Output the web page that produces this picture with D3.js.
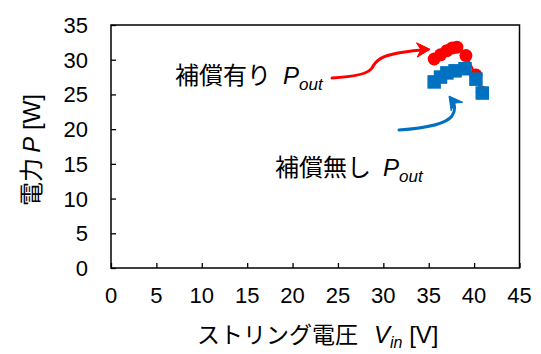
<!DOCTYPE html>
<html>
<head>
<meta charset="utf-8">
<script src="https://cdn.jsdelivr.net/npm/d3@7"></script>
<style>
  html, body { margin: 0; padding: 0; background: #fff; }
  svg { display: block; }
  text { fill: #000; }
</style>
</head>
<body>
<svg id="chart" width="541" height="354"></svg>
<script>
// String voltage vs. output power, with and without compensation
const vinComp   = [35.6, 36.3, 37.0, 37.6, 38.1, 39.1, 40.2, 40.9];
const pComp     = [30.1, 30.7, 31.3, 31.7, 31.8, 30.6, 27.8, 25.3];
const vinNoComp = [35.6, 36.3, 37.0, 37.9, 39.0, 40.2, 40.9];
const pNoComp   = [26.8, 27.5, 28.1, 28.4, 28.7, 27.2, 25.2];
const xTicks = [0, 5, 10, 15, 20, 25, 30, 35, 40, 45];
const yTicks = [0, 5, 10, 15, 20, 25, 30, 35];

const RED = "#ff0000", BLUE = "#0070c0";
const latin = "'Liberation Sans', Arial, sans-serif";
const jp = "'Noto Sans CJK JP', 'Liberation Sans', sans-serif";

const svg = d3.select("#chart");
const x = d3.scaleLinear().domain([0, 45]).range([111, 519.5]);
const y = d3.scaleLinear().domain([0, 35]).range([268, 25]);

// frame
svg.append("rect")
  .attr("x", x(0)).attr("y", y(35))
  .attr("width", x(45) - x(0)).attr("height", y(0) - y(35))
  .attr("fill", "none").attr("stroke", "#000").attr("stroke-width", 1.5);

// axes with inward ticks
const xAxis = svg.append("g").attr("transform", `translate(0,${y(0)})`)
  .call(d3.axisTop(x).tickValues(xTicks).tickSize(5).tickFormat(""));
const yAxis = svg.append("g").attr("transform", `translate(${x(0)},0)`)
  .call(d3.axisRight(y).tickValues(yTicks).tickSize(5).tickFormat(""));
[xAxis, yAxis].forEach(g => {
  g.select(".domain").remove();
  g.selectAll("line").attr("stroke", "#000").attr("stroke-width", 1.3);
});

// tick labels
svg.append("g").selectAll("text").data(xTicks).join("text")
  .attr("x", d => x(d)).attr("y", 303)
  .attr("text-anchor", "middle")
  .style("font-family", latin).style("font-size", "22px")
  .text(d => d);
svg.append("g").selectAll("text").data(yTicks).join("text")
  .attr("x", 88).attr("y", d => y(d) + 8)
  .attr("text-anchor", "end")
  .style("font-family", latin).style("font-size", "22px")
  .text(d => d);

// axis titles
const xt = svg.append("text").attr("x", 197).attr("y", 343)
  .attr("text-anchor", "start").style("font-size", "24px");
xt.append("tspan").style("font-family", jp).style("font-size", "23px").text("ストリング電圧");
xt.append("tspan").attr("dx", 16).style("font-family", latin).style("font-style", "italic").text("V");
xt.append("tspan").style("font-family", latin).style("font-style", "italic")
  .style("font-size", "16px").attr("dy", 5).text("in");
xt.append("tspan").style("font-family", latin).attr("dy", -5).text(" [V]");

const yt = svg.append("text")
  .attr("transform", "translate(40,150) rotate(-90)")
  .attr("text-anchor", "middle").style("font-size", "24px");
yt.append("tspan").style("font-family", jp).text("電力 ");
yt.append("tspan").style("font-family", latin).style("font-style", "italic").text("P");
yt.append("tspan").style("font-family", latin).text(" [W]");

// series
const compPts = vinComp.map((v, i) => [v, pComp[i]]);
const noCompPts = vinNoComp.map((v, i) => [v, pNoComp[i]]);
const line = d3.line().x(d => x(d[0])).y(d => y(d[1]));

svg.append("path").attr("d", line(compPts))
  .attr("fill", "none").attr("stroke", RED).attr("stroke-width", 2);
svg.append("g").selectAll("circle").data(compPts).join("circle")
  .attr("cx", d => x(d[0])).attr("cy", d => y(d[1])).attr("r", 6.5)
  .attr("fill", RED);

svg.append("path").attr("d", line(noCompPts))
  .attr("fill", "none").attr("stroke", BLUE).attr("stroke-width", 2);
const sq = 13.5;
svg.append("g").selectAll("rect").data(noCompPts).join("rect")
  .attr("x", d => x(d[0]) - sq / 2).attr("y", d => y(d[1]) - sq / 2)
  .attr("width", sq).attr("height", sq)
  .attr("fill", BLUE);

// annotation arrows
function arrow(pathD, tip, from, color) {
  svg.append("path").attr("d", pathD)
    .attr("fill", "none").attr("stroke", color).attr("stroke-width", 3)
    .attr("stroke-linecap", "round");
  const ang = Math.atan2(tip[1] - from[1], tip[0] - from[0]);
  const L = 15, W = 0.5;
  const p1 = [tip[0] - L * Math.cos(ang - W), tip[1] - L * Math.sin(ang - W)];
  const p2 = [tip[0] - L * Math.cos(ang + W), tip[1] - L * Math.sin(ang + W)];
  const back = [tip[0] - 9 * Math.cos(ang), tip[1] - 9 * Math.sin(ang)];
  svg.append("path")
    .attr("d", `M${p1}L${tip}L${p2}L${back}Z`)
    .attr("fill", color).attr("stroke", color).attr("stroke-width", 1)
    .attr("stroke-linejoin", "round");
}
arrow("M332,78 C352,77 368,74 372,68 C376,60 382,56 398,53 C410,51 420,50 428,49.5",
      [430, 49.3], [416, 50], RED);
arrow("M399,130 C428,128 446,124 452,116 C456,110 455,104 451,99",
      [449, 96], [455, 104], BLUE);

// series labels
function label(xp, yp, jpText) {
  const t = svg.append("text").attr("x", xp).attr("y", yp).style("font-size", "24px");
  t.append("tspan").style("font-family", jp).text(jpText);
  t.append("tspan").attr("dx", 12).style("font-family", latin).style("font-style", "italic").text("P");
  t.append("tspan").style("font-family", latin).style("font-style", "italic")
    .style("font-size", "17px").attr("dy", 6).text("out");
}
label(175, 84, "補償有り");
label(275, 176, "補償無し");
</script>
</body>
</html>
